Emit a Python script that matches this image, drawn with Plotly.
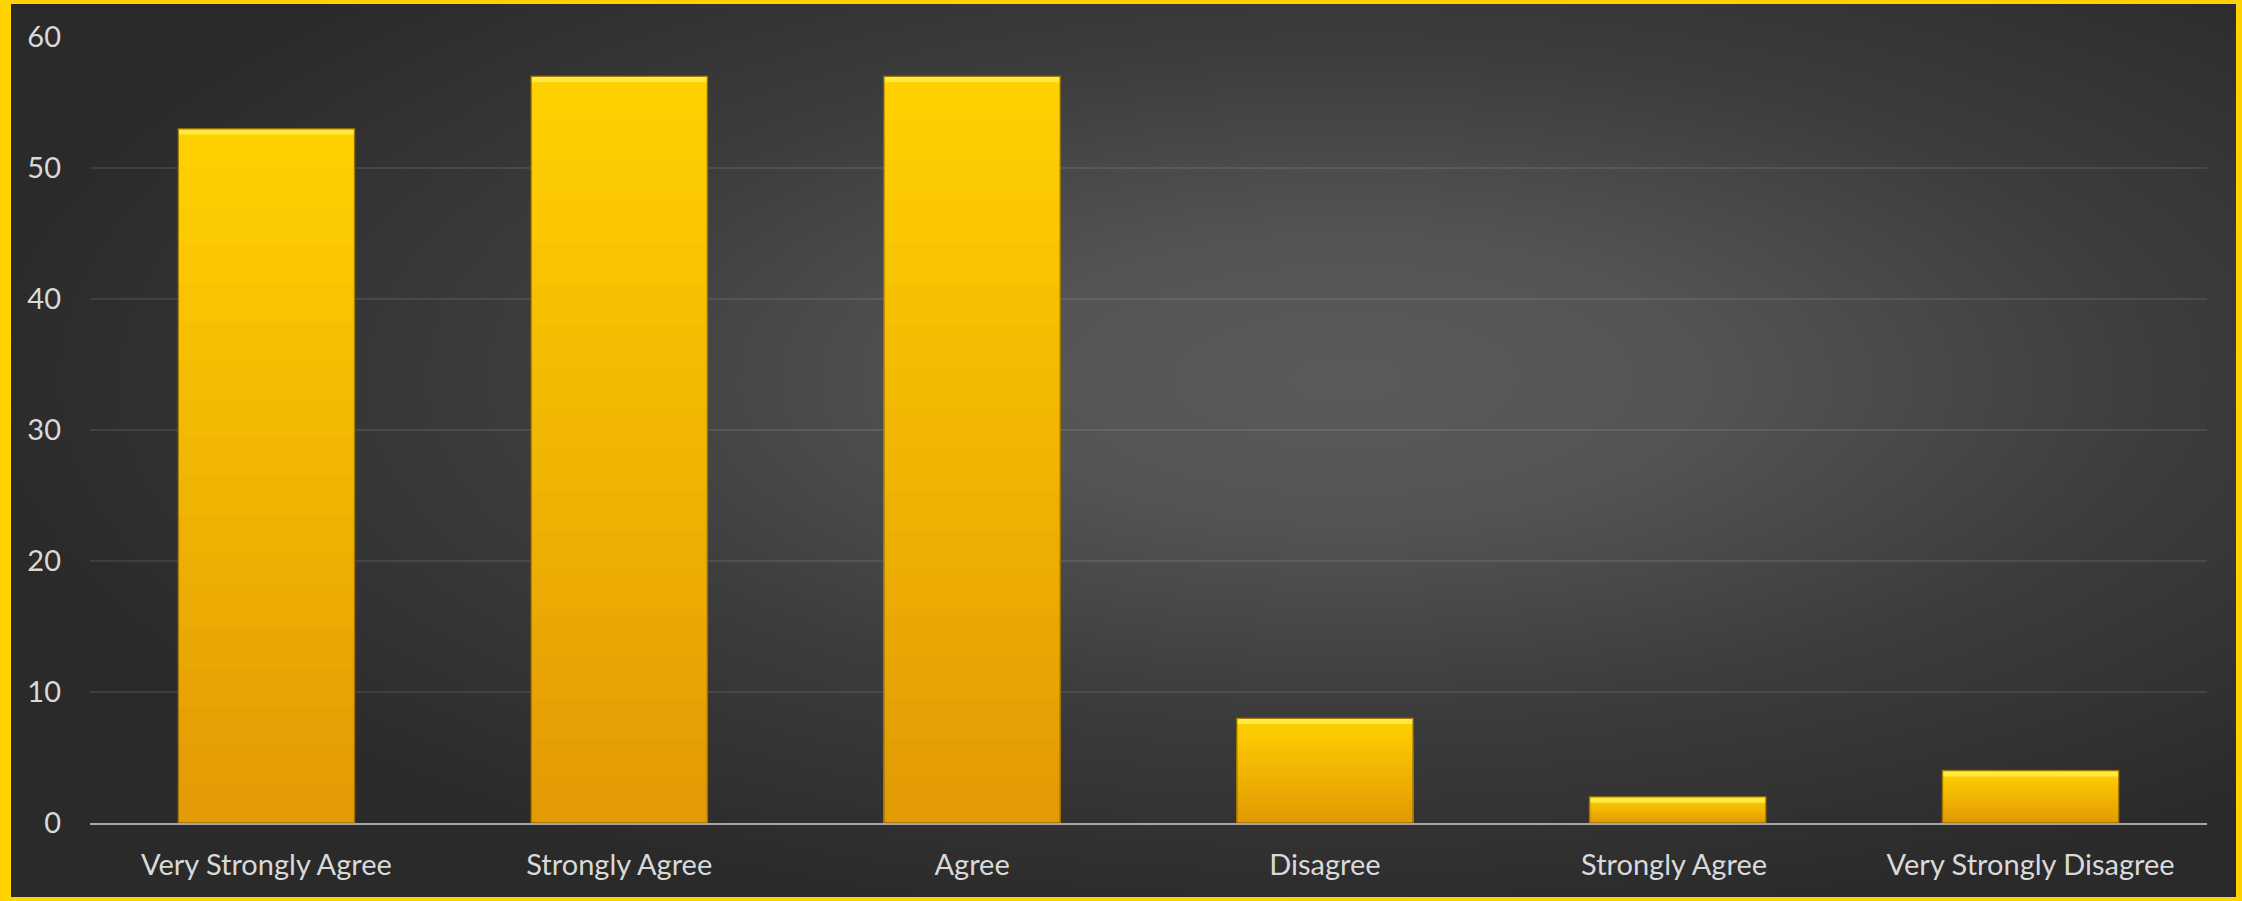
import base64
import plotly.graph_objects as go

# Survey responses
categories = ["Very Strongly Agree", "Strongly Agree", "Agree",
              "Disagree", "Strongly Agree ", "Very Strongly Disagree"]
counts = [53, 57, 57, 8, 2, 4]
y_ticks = [0, 10, 20, 30, 40, 50, 60]

W, H = 2242, 901
M_L, M_R, M_T, M_B = 90, 35, 37, 78
plot_w = W - M_L - M_R
plot_h = H - M_T - M_B

# Dark radial backdrop drawn inside the yellow frame
bg_svg = """<svg xmlns='http://www.w3.org/2000/svg' width='2225' height='893'
 viewBox='0 0 2225 893' preserveAspectRatio='none'>
<defs><radialGradient id='g' cx='0.6' cy='0.42' r='0.62'>
<stop offset='0' stop-color='#5a5a5a'/>
<stop offset='0.25' stop-color='#545454'/>
<stop offset='0.6' stop-color='#3c3c3c'/>
<stop offset='1' stop-color='#2a2a2a'/>
</radialGradient></defs>
<rect width='2225' height='893' fill='url(#g)'/></svg>"""
bg_uri = "data:image/svg+xml;base64," + base64.b64encode(bg_svg.encode()).decode()

fig = go.Figure()

# Bars: stacked overlay bands give a top-to-bottom yellow→amber shading
top_rgb = (255, 208, 0)
bot_rgb = (226, 155, 4)
n_layers = 18
for k in range(n_layers):
    frac = 1 - k / n_layers
    t = k / (n_layers - 1)
    r, g, b = (round(top_rgb[i] + (bot_rgb[i] - top_rgb[i]) * t) for i in range(3))
    fig.add_trace(go.Bar(
        x=categories,
        y=[v * frac for v in counts],
        marker=dict(color=f"rgb({r},{g},{b})", line=dict(width=0)),
        hoverinfo="skip",
        showlegend=False,
    ))

# Bright bevel along the top edge of every bar
bevel = 0.45
fig.add_trace(go.Bar(
    x=categories,
    y=[bevel] * len(counts),
    base=[v - bevel for v in counts],
    marker=dict(color="#ffea40", line=dict(width=0)),
    hoverinfo="skip",
    showlegend=False,
))

# Thin dark outline around each whole bar
fig.add_trace(go.Bar(
    x=categories,
    y=counts,
    marker=dict(color="rgba(0,0,0,0)", line=dict(color="rgba(140,100,0,0.8)", width=1.5)),
    hoverinfo="skip",
    showlegend=False,
))

fig.update_layout(
    width=W, height=H,
    margin=dict(l=M_L, r=M_R, t=M_T, b=M_B, pad=0),
    paper_bgcolor="#ffd200",
    plot_bgcolor="rgba(0,0,0,0)",
    barmode="overlay",
    bargap=0.5,
    font=dict(family="Lato, 'Open Sans', sans-serif", size=29, color="#d9d9d9"),
    images=[dict(
        source=bg_uri, xref="paper", yref="paper",
        x=(11 - M_L) / plot_w, y=(H - M_B - 4) / plot_h,
        sizex=(2236 - 11) / plot_w, sizey=(897 - 4) / plot_h,
        xanchor="left", yanchor="top", sizing="stretch", layer="below",
    )],
)

fig.update_xaxes(
    showgrid=False, showline=True, linecolor="#a6a6a6", linewidth=2,
    ticks="", ticklabelstandoff=15, tickfont=dict(size=29, color="#d9d9d9"),
    fixedrange=True,
)
fig.update_yaxes(
    range=[0, 60], tickvals=y_ticks, showgrid=True,
    gridcolor="rgba(255,255,255,0.09)", gridwidth=2,
    zeroline=False, showline=False, ticks="",
    ticklabelstandoff=28, tickfont=dict(size=29, color="#d9d9d9"),
    fixedrange=True,
)

fig.write_html("out.html")
